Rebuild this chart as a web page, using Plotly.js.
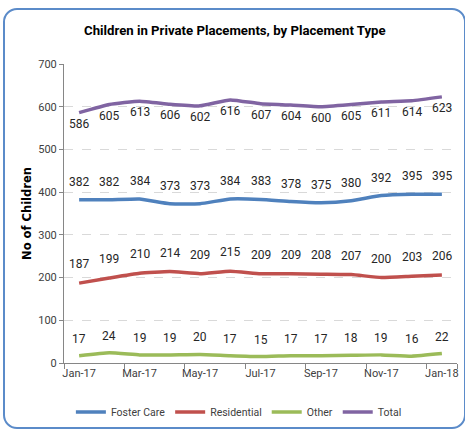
<!DOCTYPE html>
<html>
<head>
<meta charset="utf-8">
<script src="https://cdn.plot.ly/plotly-3.0.1.min.js"></script>
<style>
  html, body { margin: 0; padding: 0; background: #ffffff; }
  #wrap { position: relative; width: 465px; height: 433px; overflow: hidden; }
  #chart { position: absolute; left: 0; top: 0; width: 465px; height: 433px; }
  #frame { position: absolute; left: 3px; top: 8px; width: 463px; height: 421px;
           border: 2.5px solid #5B8BC9; border-radius: 14px; pointer-events: none; box-sizing: border-box; }
</style>
</head>
<body>
<div id="wrap">
  <div id="chart"></div>
  <div id="frame"></div>
</div>
<script>
const months = ["Jan-17","Feb-17","Mar-17","Apr-17","May-17","Jun-17","Jul-17","Aug-17","Sep-17","Oct-17","Nov-17","Dec-17","Jan-18"];
const fosterCare  = [382, 382, 384, 373, 373, 384, 383, 378, 375, 380, 392, 395, 395];
const residential = [187, 199, 210, 214, 209, 215, 209, 209, 208, 207, 200, 203, 206];
const other       = [17, 24, 19, 19, 20, 17, 15, 17, 17, 18, 19, 16, 22];
const total       = [586, 605, 613, 606, 602, 616, 607, 604, 600, 605, 611, 614, 623];

const FONT = 'Roboto, "Liberation Sans", sans-serif';

const series = [
  {name: "Foster Care", y: fosterCare,  color: "#4F81BD", shift: 18},
  {name: "Residential", y: residential, color: "#C0504D", shift: 19},
  {name: "Other",       y: other,       color: "#9BBB59", shift: 17},
  {name: "Total",       y: total,       color: "#8064A2", shift: -11}
];

const traces = series.map(s => ({
  type: "scatter", mode: "lines", name: s.name, x: months, y: s.y,
  line: {color: s.color, width: 3.5, shape: "spline", smoothing: 0.4},
  hoverinfo: "skip"
}));

const annotations = [];
series.forEach(s => {
  s.y.forEach((v, i) => {
    annotations.push({x: months[i], y: v, xref: "x", yref: "y", text: String(v),
      showarrow: false, yshift: s.shift, yanchor: "middle", xanchor: "center",
      font: {family: FONT, size: 12, color: "#262626"}});
  });
});

const layout = {
  width: 465, height: 433,
  margin: {l: 64, r: 8, t: 64, b: 69},
  paper_bgcolor: "#ffffff", plot_bgcolor: "#ffffff",
  title: {text: "<b>Children in Private Placements, by Placement Type</b>",
          font: {family: FONT, size: 13.2, color: "#000000"},
          x: 0.505, xanchor: "center", y: 0.93, yanchor: "middle"},
  xaxis: {type: "category", range: [-0.5, 12.5], tickmode: "array",
          tickvals: months.filter((m, i) => i % 2 === 0),
          ticktext: months.filter((m, i) => i % 2 === 0),
          tickson: "boundaries", ticks: "outside", ticklen: 5, tickcolor: "#868686",
          tickangle: 0,
          showline: true, linecolor: "#868686", linewidth: 1, showgrid: false,
          tickfont: {family: FONT, size: 11, color: "#404040"}, fixedrange: true},
  yaxis: {range: [0, 700], dtick: 100, ticks: "outside", ticklen: 4, tickcolor: "#868686",
          showline: true, linecolor: "#868686", linewidth: 1,
          showgrid: true, gridcolor: "#D9D9D9", griddash: "dash", gridwidth: 1,
          zeroline: false,
          tickfont: {family: FONT, size: 11, color: "#404040"},
          title: {text: "<b>No of Children</b>", standoff: 4,
                  font: {family: '"DejaVu Sans", Verdana, sans-serif', size: 11.5, color: "#000000"}},
          fixedrange: true},
  showlegend: true,
  legend: {orientation: "h", x: 0.445, xanchor: "center", y: -0.16, yanchor: "middle",
           font: {family: FONT, size: 10.5, color: "#404040"}, itemwidth: 30, tracegroupgap: 0},
  annotations: annotations
};

Plotly.newPlot("chart", traces, layout, {displayModeBar: false, staticPlot: true});
</script>
</body>
</html>
